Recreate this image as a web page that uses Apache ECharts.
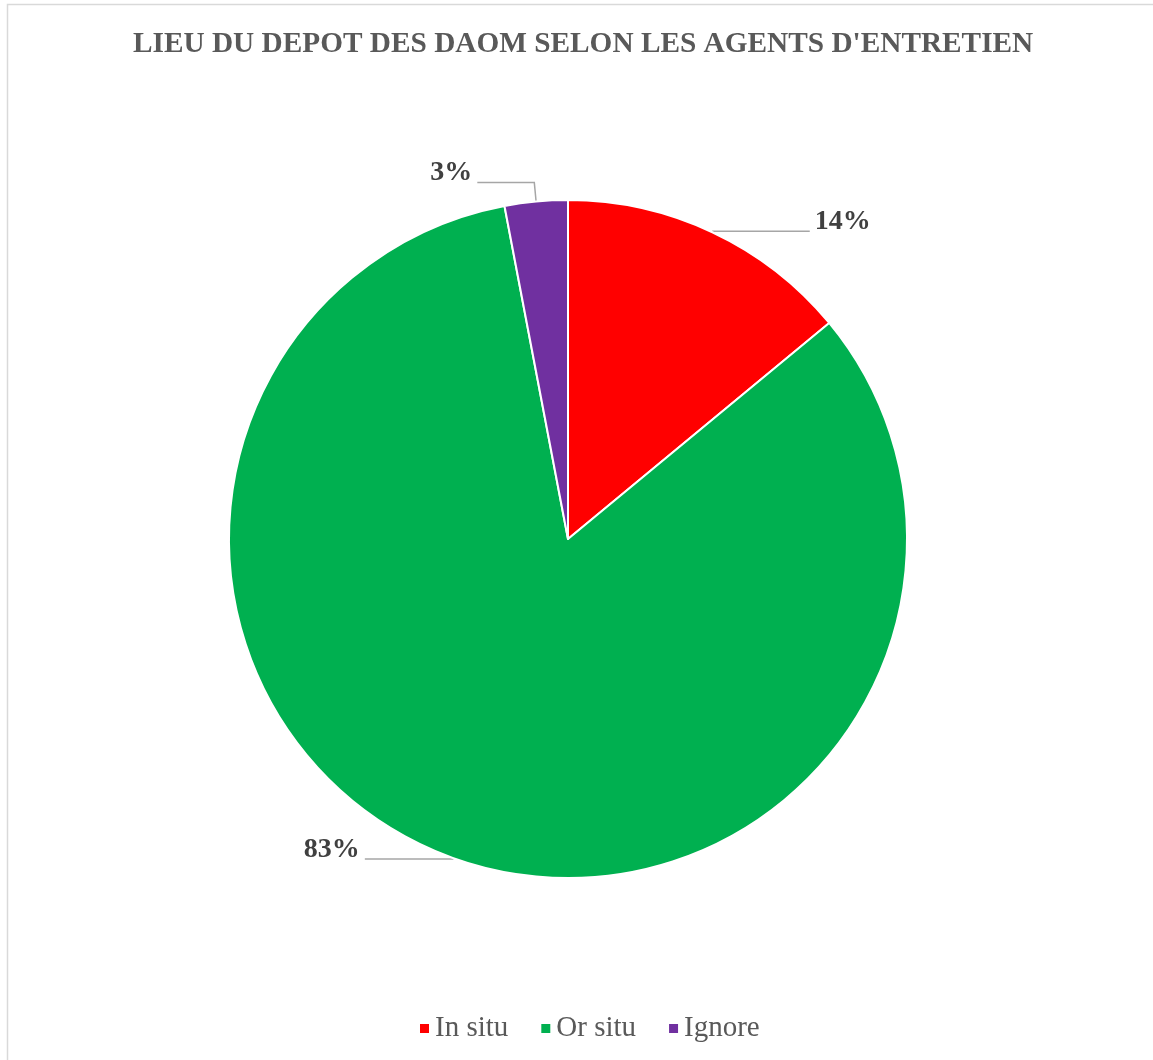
<!DOCTYPE html>
<html>
<head>
<meta charset="utf-8">
<style>
  html, body { margin: 0; padding: 0; background: #ffffff; }
  #chart { width: 1153px; height: 1060px; }
</style>
<script src="https://cdn.jsdelivr.net/npm/echarts@6/dist/echarts.min.js"></script>
</head>
<body>
<div id="chart"></div>
<script>
// Lieu du dépôt des DAOM selon les agents d'entretien (pourcentages)
const categories = ['In situ', 'Or situ', 'Ignore'];
const shares = [14, 83, 3];
const sliceColors = ['#ff0000', '#00b050', '#7030a0'];
// leader line segments per slice: [radial length, horizontal length]
const leaderLengths = [[1, 97], [1, 88], [19, 57]];

const serif = '"Liberation Serif", "Times New Roman", serif';

const chart = echarts.init(document.getElementById('chart'));

const pieData = categories.map((name, i) => ({
  name: name,
  value: shares[i],
  itemStyle: { color: sliceColors[i] },
  labelLine: { length: leaderLengths[i][0], length2: leaderLengths[i][1] }
}));

chart.setOption({
  animation: false,
  backgroundColor: '#ffffff',
  title: {
    text: "LIEU DU DEPOT DES DAOM SELON LES AGENTS D'ENTRETIEN",
    left: 128,
    top: 25,
    textStyle: {
      fontFamily: serif,
      fontSize: 29.3,
      fontWeight: 'bold',
      color: '#595959'
    }
  },
  legend: {
    data: categories,
    left: 413,
    top: 1009,
    icon: 'rect',
    itemWidth: 11,
    itemHeight: 11,
    itemGap: 31,
    textStyle: {
      fontFamily: serif,
      fontSize: 29,
      color: '#595959'
    }
  },
  graphic: [{
    type: 'rect',
    silent: true,
    shape: { x: 7.5, y: 4.5, width: 1200, height: 1100 },
    style: { fill: 'none', stroke: '#d9d9d9', lineWidth: 1.5 }
  }],
  series: [{
    type: 'pie',
    center: [568, 539],
    radius: 339,
    startAngle: 90,
    clockwise: true,
    avoidLabelOverlap: false,
    itemStyle: { borderColor: '#ffffff', borderWidth: 2 },
    label: {
      show: true,
      position: 'outside',
      // an empty second line lifts the value above its leader line
      formatter: '{c}%\n ',
      fontFamily: serif,
      fontSize: 28,
      lineHeight: 19,
      fontWeight: 'bold',
      color: '#404040'
    },
    labelLine: {
      show: true,
      smooth: false,
      lineStyle: { color: '#a6a6a6', width: 1.5 }
    },
    emphasis: { disabled: true },
    data: pieData
  }]
});
</script>
</body>
</html>
